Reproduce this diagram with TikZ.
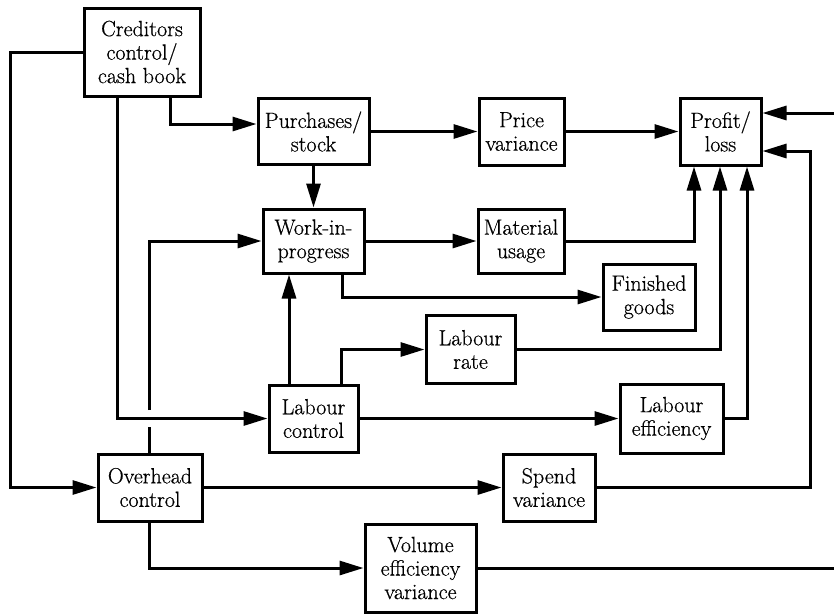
\documentclass[tikz,border=0pt]{standalone}
\usepackage{fontspec}
\usetikzlibrary{arrows.meta}
\newfontfamily\boxfont{Latin Modern Roman}[FakeBold=0.6]
\begin{document}
\begin{tikzpicture}[x=1pt,y=-1pt,
  box/.style={draw, line width=3pt, fill=white, align=center, inner sep=0pt,
    font=\boxfont\fontsize{22}{23.5}\selectfont},
  conn/.style={line width=3pt},
  arr/.style={conn, -{Triangle[length=24pt,width=14pt]}}]
% canvas
\fill[white] (0,0) rectangle (834,614);
\useasboundingbox (0,0) rectangle (834,614);

% boxes
\node[box, minimum width=116, minimum height=88] (cred)   at (142,52)    {Creditors\\control/\\cash book};
\node[box, minimum width=111, minimum height=66] (purch)  at (313.5,131.5) {Purchases/\\stock};
\node[box, minimum width=85,  minimum height=67] (price)  at (521.5,131.5) {Price\\variance};
\node[box, minimum width=81,  minimum height=67] (profit) at (720.5,131.5) {Profit/\\loss};
\node[box, minimum width=101, minimum height=64] (wip)    at (313.5,241) {Work-in-\\progress};
\node[box, minimum width=86,  minimum height=64] (mat)    at (521,241)   {Material\\usage};
\node[box, minimum width=92,  minimum height=66] (fin)    at (649,297)   {Finished\\goods};
\node[box, minimum width=89,  minimum height=68] (lrate)  at (470.5,349.5) {Labour\\rate};
\node[box, minimum width=89,  minimum height=67] (lctrl)  at (313.5,418.5) {Labour\\control};
\node[box, minimum width=103, minimum height=69] (leff)   at (671.5,418.5) {Labour\\efficiency};
\node[box, minimum width=104, minimum height=67] (ovh)    at (150,487.5) {Overhead\\control};
\node[box, minimum width=92,  minimum height=67] (spend)  at (549,487.5) {Spend\\variance};
\node[box, minimum width=111, minimum height=88] (vol)    at (420.5,568) {Volume\\efficiency\\variance};

% routing guides
\coordinate (xL)  at (10,0);
\coordinate (xC1) at (117,0);
\coordinate (xC2) at (170,0);
\coordinate (xO)  at (149,0);
\coordinate (xW)  at (342,0);
\coordinate (xLc) at (289,0);
\coordinate (xLr) at (341,0);
\coordinate (xP1) at (694,0);
\coordinate (xP2) at (720,0);
\coordinate (xP3) at (747,0);
\coordinate (xS)  at (810,0);
\coordinate (xR)  at (836,0);
\coordinate (yPu) at (0,124);
\coordinate (yP1) at (0,113);
\coordinate (yP2) at (0,151);
\coordinate (gapLo) at (149,427);
\coordinate (gapHi) at (149,410);

% connectors
\draw[arr] (cred.west) -| (xL |- ovh.west) -- (ovh.west);
\draw[arr] (cred.south -| xC1) |- (lctrl.west);
\draw[arr] (cred.south -| xC2) |- (purch.west |- yPu);
\draw[arr] (purch.east) -- (price.west);
\draw[arr] (purch.south) -- (wip.north);
\draw[arr] (price.east) -- (profit.west);
\draw[arr] (wip.east) -- (mat.west);
\draw[arr] (mat.east) -| (profit.south -| xP1);
\draw[arr] (wip.south -| xW) |- (fin.west);
\draw[arr] (lctrl.north -| xLc) -- (wip.south -| xLc);
\draw[arr] (lctrl.north -| xLr) |- (lrate.west);
\draw[arr] (lrate.east) -| (profit.south -| xP2);
\draw[arr] (lctrl.east) -- (leff.west);
\draw[arr] (leff.east) -| (profit.south -| xP3);
\draw[conn] (ovh.north -| xO) -- (gapLo);
\draw[arr] (gapHi) |- (wip.west);
\draw[arr] (ovh.east) -- (spend.west);
\draw[arr] (spend.east) -| (xS |- yP2) -- (profit.east |- yP2);
\draw[arr] (ovh.south -| xO) |- (vol.west);
\draw[arr] (vol.east) -| (xR |- yP1) -- (profit.east |- yP1);
\end{tikzpicture}
\end{document}
